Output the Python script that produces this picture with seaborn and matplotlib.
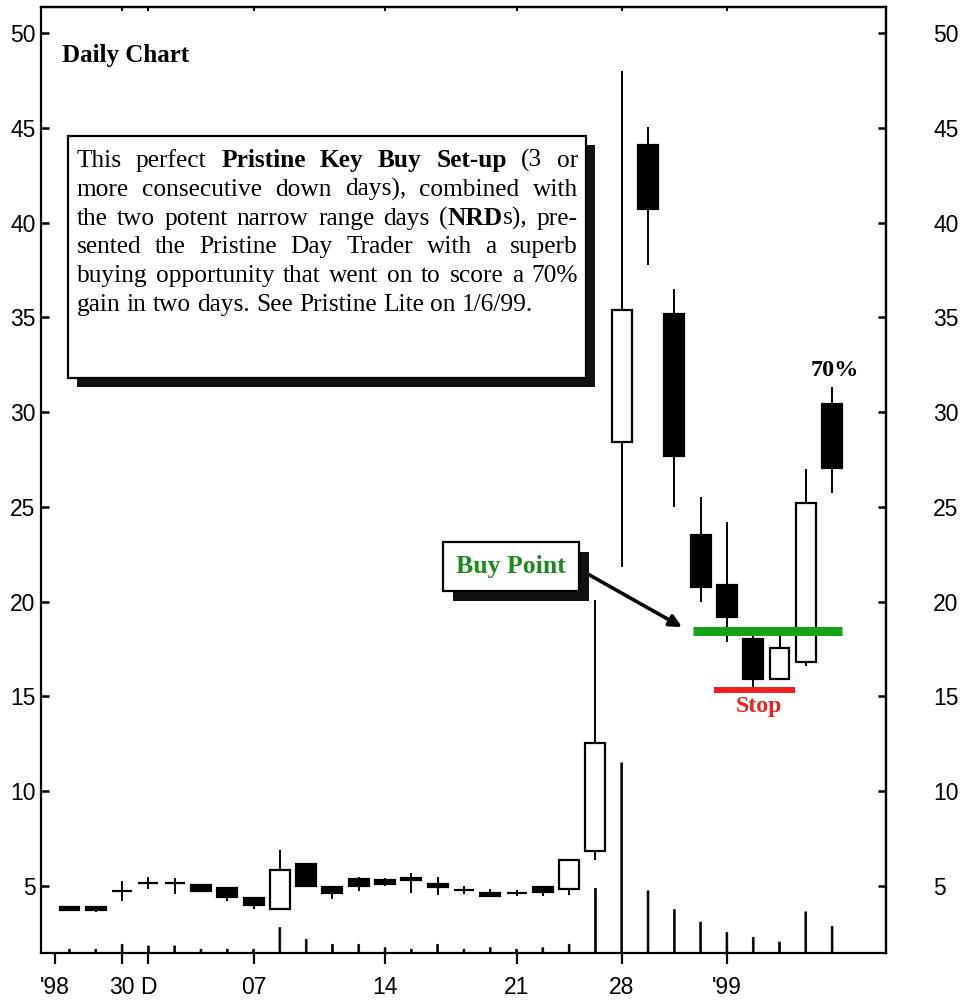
import re
import matplotlib
matplotlib.use("Agg")
import matplotlib.pyplot as plt
from matplotlib.patches import Rectangle
import seaborn as sns

# ---- data (Nov 25 1998 .. Jan 8 1999) ----
days = ["11/25", "11/27", "11/30", "12/01", "12/02", "12/03", "12/04",
        "12/07", "12/08", "12/09", "12/10", "12/11", "12/14", "12/15",
        "12/16", "12/17", "12/18", "12/21", "12/22", "12/23", "12/24",
        "12/28", "12/29", "12/30", "12/31", "01/04", "01/05", "01/06",
        "01/07", "01/08"]
opens = [3.9, 3.9, 4.75, 5.15, 5.15, 5.05, 4.9, 4.35, 3.8, 6.15,
         4.95, 5.35, 5.3, 5.45, 5.1, 4.8, 4.65, 4.65, 4.95, 4.85,
         6.85, 28.4, 44.1, 35.2, 23.5, 20.9, 18.05, 15.9, 16.8, 30.45]
closes = [3.75, 3.75, 4.75, 5.15, 5.15, 4.75, 4.45, 4.0, 5.85, 5.0,
          4.65, 5.0, 5.1, 5.3, 4.95, 4.8, 4.5, 4.65, 4.7, 6.4,
          12.55, 35.4, 40.7, 27.7, 20.8, 19.2, 15.9, 17.55, 25.2, 27.05]
highs = [3.9, 3.95, 5.25, 5.5, 5.45, 5.1, 4.95, 4.45, 6.9, 6.2,
         5.0, 5.5, 5.4, 5.7, 5.5, 5.0, 4.85, 4.8, 5.0, 6.4,
         20.1, 48.0, 45.05, 36.5, 25.5, 24.2, 18.3, 18.25, 27.0, 31.3]
lows = [3.75, 3.65, 4.2, 4.85, 4.6, 4.7, 4.2, 3.8, 3.75, 4.95,
        4.3, 4.75, 5.0, 4.65, 4.55, 4.6, 4.45, 4.5, 4.5, 4.55,
        6.4, 21.85, 37.75, 25.0, 20.0, 17.9, 15.45, 15.9, 16.6, 25.75]
# volume spikes, as top of the line in price-scale units
volume_top = [1.67, 1.67, 1.93, 1.84, 1.84, 1.67, 1.67, 1.67, 2.81, 2.19,
              1.93, 1.93, 1.75, 1.67, 1.93, 1.67, 1.75, 1.67, 1.75, 1.93,
              4.88, 11.5, 4.75, 3.76, 3.1, 2.55, 2.3, 2.05, 3.64, 2.88]

x_tick_pos = [-0.55, 2, 3, 7, 12, 17, 21, 25]
x_tick_labels = ["'98", "30", "D", "07", "14", "21", "28", "'99"]
y_ticks = [5, 10, 15, 20, 25, 30, 35, 40, 45, 50]

buy_point = 18.45
stop_level = 15.35

box_lines = [
    "This perfect *Pristine Key Buy Set-up* (3 or",
    "more consecutive down days), combined with",
    "the two potent narrow range days (*NRD*s), pre-",
    "sented the Pristine Day Trader with a superb",
    "buying opportunity that went on to score a 70%",
    "gain in two days. See Pristine Lite on 1/6/99.",
]

GREEN = "#17a317"
DARK_GREEN = "#1b8c1b"
RED = "#f01e1e"
W, H = 960, 1006

sns.set_theme(style="ticks", rc={"axes.edgecolor": "black", "text.color": "black",
                                  "xtick.color": "black", "ytick.color": "black"})
plt.rcParams["font.family"] = ["Liberation Serif", "DejaVu Serif"]
TICK_FONT = ["Liberation Sans Narrow", "Liberation Sans", "DejaVu Sans"]

fig = plt.figure(figsize=(W / 100, H / 100), dpi=100)
ax = fig.add_axes([41 / W, 53 / H, 845 / W, 946 / H])

xs = list(range(len(days)))

# volume lines drawn with seaborn on the native numeric scale
sns.barplot(x=xs, y=volume_top, native_scale=True, width=0.07, color="black",
            edgecolor="black", linewidth=0.5, errorbar=None, ax=ax, zorder=1)
for p in ax.patches:
    p.set_snap(False)

# wicks
ax.vlines(xs, lows, highs, color="black", lw=1.4, zorder=2)

# bodies
bottoms = [min(o, c) for o, c in zip(opens, closes)]
heights = [abs(c - o) for o, c in zip(opens, closes)]
faces = ["white" if c >= o else "black" for o, c in zip(opens, closes)]
ax.bar(xs, heights, bottom=bottoms, width=0.76, color=faces, edgecolor="black",
       linewidth=1.6, zorder=3)

# buy point / stop levels
ax.hlines(buy_point, 23.7, 29.36, color=GREEN, lw=6.5, zorder=4)
ax.hlines(stop_level, 24.5, 27.6, color=RED, lw=4.3, zorder=4)
ax.text(26.2, 14.45, "Stop", color=RED, fontsize=17.2, fontweight="bold",
        ha="center", va="center")
ax.text(29.1, 32.2, "70%", fontsize=17.5, fontweight="bold", ha="center", va="center")

ax.set_xlim(-1.084, 31.05)
ax.set_ylim(1.47, 51.37)
ax.set_xticks(x_tick_pos)
ax.set_xticklabels(x_tick_labels)
ax.set_yticks(y_ticks)
ax.set_yticklabels([str(v) for v in y_ticks])
ax.set_xlabel("")
ax.set_ylabel("")
ax.tick_params(axis="x", direction="out", length=8, width=1.6, pad=8.5,
               labelsize=16.5, labelfontfamily=TICK_FONT)
ax.tick_params(axis="y", direction="in", length=6, width=1.8, pad=4,
               labelsize=16.5, labelfontfamily=TICK_FONT)
for sp in ax.spines.values():
    sp.set_linewidth(1.6)
    sp.set_color("black")

right = ax.secondary_yaxis("right")
right.set_yticks(y_ticks)
right.set_yticklabels([str(v) for v in y_ticks])
right.tick_params(direction="in", length=6, width=1.8, pad=34,
                  labelsize=16.5, labelfontfamily=TICK_FONT)
right.spines["right"].set_linewidth(1.6)

top = ax.secondary_xaxis("top")
top.set_xticks(x_tick_pos[1:])
top.tick_params(direction="in", length=3, width=1.4, labeltop=False)
top.spines["top"].set_linewidth(1.6)


def fx(px):
    return px / W


def fy(py):
    return 1 - py / H


def shadow_box(x0, y0, x1, y1, off):
    fig.add_artist(Rectangle((fx(x0 + off), fy(y1 + off)), fx(x1 - x0), (y1 - y0) / H,
                             transform=fig.transFigure, facecolor="#111111",
                             edgecolor="none", zorder=5))
    fig.add_artist(Rectangle((fx(x0), fy(y1)), fx(x1 - x0), (y1 - y0) / H,
                             transform=fig.transFigure, facecolor="white",
                             edgecolor="black", lw=1.6, zorder=6))


fig.text(fx(62), fy(62), "Daily Chart", fontsize=18, fontweight="bold",
         ha="left", va="baseline")

# description box with justified text
shadow_box(68, 136, 585.5, 378, 9)
renderer = fig.canvas.get_renderer()
body_size = 18.3
space_px = body_size * 0.25 * 100 / 72


def parse(line):
    words, cur, bold = [], [], False
    for part in re.split(r"(\*| )", line):
        if part == "*":
            bold = not bold
        elif part == " ":
            if cur:
                words.append(cur)
                cur = []
        elif part:
            cur.append((part, bold))
    if cur:
        words.append(cur)
    return words


left_px, right_px = 76.5, 578
for i, line in enumerate(box_lines):
    base = 167 + i * 28.8
    words = parse(line)
    placed = []
    for w in words:
        segs = []
        for txt, b in w:
            t = fig.text(0, fy(base), txt, fontsize=body_size,
                         fontweight="bold" if b else "normal",
                         ha="left", va="baseline", zorder=7)
            segs.append((t, t.get_window_extent(renderer).width))
        placed.append(segs)
    word_w = [sum(wd for _, wd in segs) for segs in placed]
    if i < len(box_lines) - 1:
        gap = (right_px - left_px - sum(word_w)) / (len(placed) - 1)
    else:
        gap = space_px
    x = left_px
    for segs, ww in zip(placed, word_w):
        sx = x
        for t, wd in segs:
            t.set_x(fx(sx))
            sx += wd
        x += ww + gap

# buy point label and arrow
shadow_box(443, 542, 579, 591, 9.5)
fig.text(fx(511), fy(566), "Buy Point", color=DARK_GREEN, fontsize=18.5,
         fontweight="bold", ha="center", va="center", zorder=7)
ax.annotate("", xy=(23.29, 18.66), xycoords="data",
            xytext=(586, H - 573), textcoords="figure pixels",
            arrowprops=dict(arrowstyle="-|>", lw=2.6, color="black",
                            mutation_scale=18, shrinkA=0, shrinkB=0))

fig.savefig("out.png", dpi=100)
